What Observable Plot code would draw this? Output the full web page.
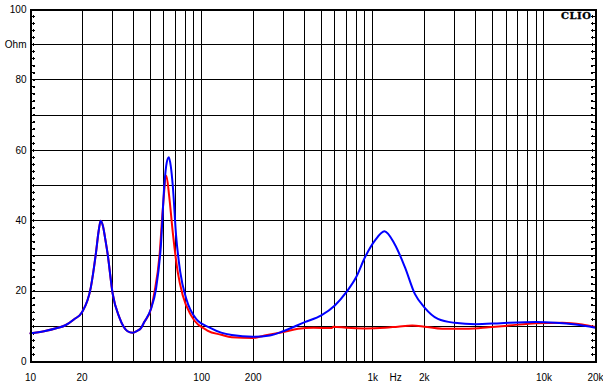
<!DOCTYPE html>
<html>
<head>
<meta charset="utf-8">
<script src="https://cdn.jsdelivr.net/npm/d3@7"></script>
<script src="https://cdn.jsdelivr.net/npm/@observablehq/plot@0.6"></script>
<style>
  html, body { margin: 0; padding: 0; background: #fff; }
  #chart svg { display: block; }
</style>
</head>
<body>
<div id="chart"></div>
<script>
// Impedance curve 1 (blue): frequency (Hz) and impedance (Ohm)
const blueFreq = [10, 12, 14.3, 16, 18, 20, 22.5, 24.1, 25, 25.7, 26.5, 27.3, 28.2, 30.2, 33, 36.9, 39.5, 42, 44.2, 46.2, 50.6, 54.1, 57.8, 60.5, 62.5, 64.3, 66, 67.8, 70.9, 75, 81.3, 92.8, 113, 130, 150, 200, 250, 300, 400, 500, 600, 700, 800, 900, 1030, 1170, 1340, 1540, 1760, 2000, 2400, 3000, 4000, 5600, 9000, 11700, 15300, 20000];
const blueOhm  = [8.0, 8.6, 9.5, 10.3, 12.0, 14.0, 21.0, 30.7, 37.0, 40.0, 38.5, 35.0, 30.7, 19.3, 12.6, 8.6, 8.15, 8.7, 9.5, 11.2, 15.0, 20.6, 33.0, 50.0, 56.5, 58.0, 55.5, 50.0, 35.8, 25.4, 17.8, 12.1, 9.5, 8.2, 7.5, 7.0, 7.4, 8.6, 11.2, 13.1, 15.9, 19.7, 24.0, 29.6, 34.4, 37.0, 33.4, 26.8, 19.2, 15.4, 12.1, 11.0, 10.6, 10.9, 11.2, 11.0, 10.5, 9.6];

// Impedance curve 2 (red)
const redFreq = [10, 12, 14.3, 16, 18, 20, 22.5, 24.1, 25, 25.7, 26.5, 27.3, 28.2, 30.2, 33, 36.9, 39.5, 42, 44.2, 46.2, 50.6, 53, 56.7, 59.1, 62.2, 64.6, 67.8, 72.5, 77.5, 86.7, 108, 130, 150, 200, 233, 300, 366, 450, 575, 590, 700, 900, 1180, 1400, 1700, 2000, 2540, 3630, 4750, 6230, 8950, 12800, 16700, 20000];
const redOhm  = [8.0, 8.6, 9.5, 10.3, 12.0, 14.0, 21.0, 30.7, 37.0, 40.0, 38.5, 35.0, 30.7, 19.3, 12.6, 8.6, 8.15, 8.7, 9.5, 11.2, 15.0, 19.7, 30.0, 42.4, 52.8, 47.0, 36.7, 25.4, 18.8, 13.1, 8.8, 7.6, 6.9, 6.7, 7.4, 8.4, 9.3, 9.6, 9.5, 9.9, 9.6, 9.4, 9.6, 9.9, 10.2, 9.9, 9.3, 9.3, 9.7, 10.2, 10.9, 11.0, 10.5, 9.8];

// Axes
const xTicks = [10, 20, 50, 100, 200, 500, 1000, 1360, 2000, 5000, 10000, 20000];
const xTickLabels = ["10", "20", "50", "100", "200", "500", "1k", "Hz", "2k", "5k", "10k", "20k"];
const yTicks = [0, 20, 40, 60, 80, 90, 100];
const yTickLabels = ["0", "20", "40", "60", "80", "Ohm", "100"];
const xGrid = [20, 30, 40, 50, 60, 70, 80, 90, 100, 200, 300, 400, 500, 600, 700, 800, 900, 1000, 2000, 3000, 4000, 5000, 6000, 7000, 8000, 9000, 10000];
const yGrid = [10, 20, 30, 40, 50, 60, 70, 80, 90];
const yMinor = d3.range(2, 100, 2);
const brand = ["CLIO"];

const blue = blueFreq.map((f, i) => ({f, z: blueOhm[i]}));
const red = redFreq.map((f, i) => ({f, z: redOhm[i]}));

const font = "'Liberation Sans', Arial, sans-serif";

const chart = Plot.plot({
  width: 603,
  height: 388,
  marginLeft: 30,
  marginRight: 8,
  marginTop: 9,
  marginBottom: 27,
  style: {fontFamily: font, fontSize: "10px", color: "#000", background: "#fff", overflow: "visible"},
  x: {type: "log", domain: [10, 20000]},
  y: {domain: [0, 100]},
  marks: [
    Plot.ruleX(xGrid, {stroke: "#000", strokeWidth: 1, shapeRendering: "crispEdges"}),
    Plot.ruleY(yGrid, {stroke: "#000", strokeWidth: 1, shapeRendering: "crispEdges"}),
    Plot.vectorY(yMinor, {y: d => d, frameAnchor: "left", length: 4, rotate: 90, anchor: "start", stroke: "#000", strokeWidth: 1, shapeRendering: "crispEdges"}),
    Plot.vectorY(yMinor, {y: d => d, frameAnchor: "right", length: 4, rotate: -90, anchor: "start", stroke: "#000", strokeWidth: 1, shapeRendering: "crispEdges"}),
    Plot.line(red, {x: "f", y: "z", stroke: "#ff0000", strokeWidth: 2, curve: "monotone-x"}),
    Plot.line(blue, {x: "f", y: "z", stroke: "#0000ff", strokeWidth: 2, curve: "monotone-x"}),
    Plot.frame({stroke: "#000", strokeWidth: 2, shapeRendering: "crispEdges"}),
    Plot.axisX({ticks: xTicks, tickFormat: (d) => xTickLabels[xTicks.indexOf(d)], tickSize: 0, tickPadding: 12, label: null, fontSize: 10}),
    Plot.axisY({ticks: yTicks, tickFormat: d => yTickLabels[yTicks.indexOf(d)], tickSize: 0, tickPadding: 4, label: null, fontSize: 10}),
    Plot.text(brand, {frameAnchor: "top-right", text: d => d, dx: -4, dy: 6, textAnchor: "end", lineAnchor: "middle", fontFamily: "'DejaVu Serif', serif", fontWeight: "bold", fontSize: 10, fill: "#000"})
  ]
});

d3.select(chart).selectAll("text").filter(function() { return this.textContent === "CLIO"; })
  .attr("letter-spacing", "0.5px").attr("stroke", "#000").attr("stroke-width", 0.3);

document.getElementById("chart").appendChild(chart);
</script>
</body>
</html>
